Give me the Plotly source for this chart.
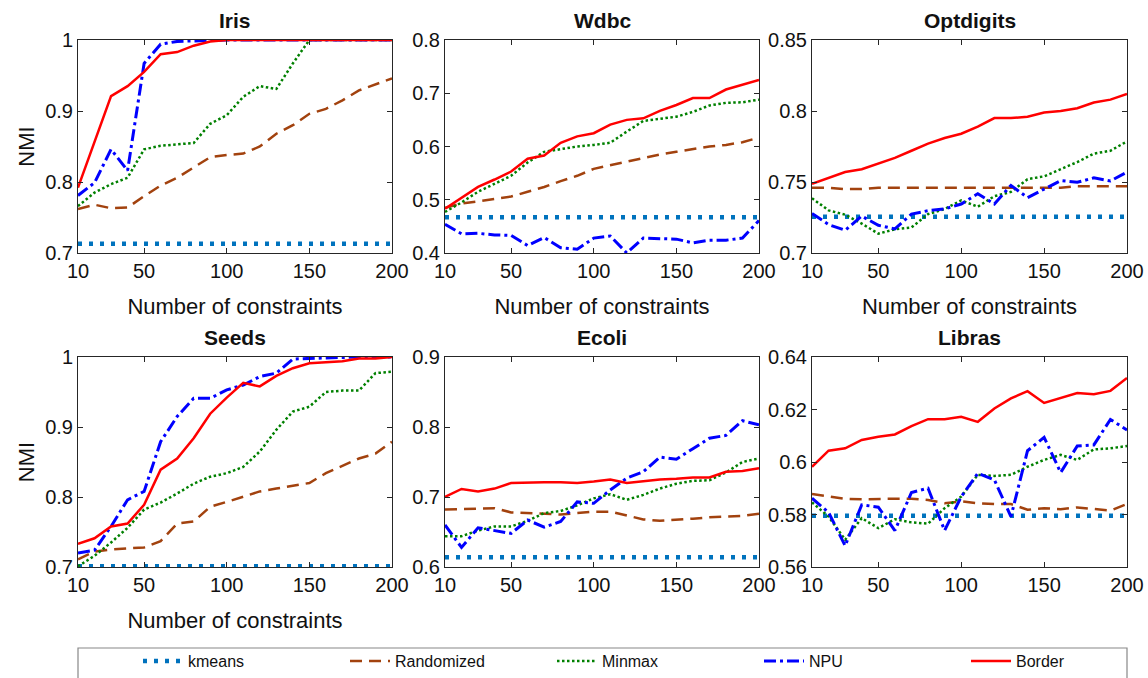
import plotly.graph_objects as go

W, H = 1148, 678

x_vals = [10, 20, 30, 40, 50, 60, 70, 80, 90, 100, 110, 120, 130, 140, 150, 160, 170, 180, 190, 200]
x_ticks = [10, 50, 100, 150, 200]
x_ticktext = ["10", "50", "100", "150", "200"]

methods = ["kmeans", "Randomized", "Minmax", "NPU", "Border"]
datasets = ["Iris", "Wdbc", "Optdigits", "Seeds", "Ecoli", "Libras"]

# ---- Iris ----
iris_kmeans = [0.713] * 20
iris_randomized = [0.762, 0.768, 0.763, 0.764, 0.780, 0.795, 0.806, 0.820, 0.835, 0.838, 0.840, 0.850, 0.868, 0.880, 0.896, 0.903, 0.915, 0.929, 0.937, 0.946]
iris_minmax = [0.766, 0.785, 0.797, 0.806, 0.846, 0.851, 0.853, 0.855, 0.882, 0.894, 0.920, 0.935, 0.931, 0.967, 1.0, 1.0, 1.0, 1.0, 1.0, 1.0]
iris_npu = [0.781, 0.799, 0.846, 0.816, 0.967, 0.994, 0.998, 0.999, 1.0, 1.0, 1.0, 1.0, 1.0, 1.0, 1.0, 1.0, 1.0, 1.0, 1.0, 1.0]
iris_border = [0.792, 0.858, 0.921, 0.935, 0.955, 0.980, 0.983, 0.992, 0.998, 1.0, 1.0, 1.0, 1.0, 1.0, 1.0, 1.0, 1.0, 1.0, 1.0, 1.0]

# ---- Wdbc ----
wdbc_kmeans = [0.467] * 20
wdbc_randomized = [0.485, 0.493, 0.497, 0.501, 0.506, 0.515, 0.524, 0.535, 0.545, 0.558, 0.565, 0.572, 0.578, 0.585, 0.590, 0.595, 0.600, 0.603, 0.608, 0.617]
wdbc_minmax = [0.477, 0.495, 0.515, 0.530, 0.545, 0.570, 0.590, 0.595, 0.600, 0.603, 0.607, 0.628, 0.648, 0.652, 0.656, 0.665, 0.677, 0.682, 0.683, 0.688]
wdbc_npu = [0.454, 0.436, 0.437, 0.434, 0.433, 0.414, 0.429, 0.410, 0.407, 0.428, 0.432, 0.400, 0.428, 0.427, 0.426, 0.419, 0.424, 0.424, 0.428, 0.461]
wdbc_border = [0.483, 0.503, 0.524, 0.538, 0.553, 0.577, 0.583, 0.607, 0.619, 0.625, 0.641, 0.650, 0.653, 0.667, 0.678, 0.691, 0.691, 0.707, 0.716, 0.725]

# ---- Optdigits ----
opt_kmeans = [0.7255] * 20
opt_randomized = [0.746, 0.746, 0.745, 0.745, 0.746, 0.746, 0.746, 0.746, 0.746, 0.746, 0.746, 0.746, 0.746, 0.746, 0.746, 0.746, 0.747, 0.747, 0.747, 0.747]
opt_minmax = [0.7386, 0.730, 0.727, 0.7207, 0.7136, 0.7167, 0.718, 0.7274, 0.731, 0.737, 0.7326, 0.740, 0.743, 0.752, 0.754, 0.759, 0.764, 0.770, 0.772, 0.7786]
opt_npu = [0.7279, 0.720, 0.716, 0.726, 0.7195, 0.717, 0.7274, 0.7298, 0.731, 0.7345, 0.7417, 0.7345, 0.7476, 0.739, 0.745, 0.751, 0.7498, 0.7529, 0.7507, 0.757]
opt_border = [0.7488, 0.753, 0.757, 0.759, 0.763, 0.767, 0.772, 0.777, 0.781, 0.784, 0.789, 0.795, 0.795, 0.796, 0.799, 0.800, 0.802, 0.806, 0.808, 0.812]

# ---- Seeds ----
seeds_kmeans = [0.701] * 20
seeds_randomized = [0.711, 0.722, 0.725, 0.727, 0.728, 0.737, 0.762, 0.765, 0.786, 0.793, 0.800, 0.808, 0.812, 0.816, 0.820, 0.834, 0.845, 0.855, 0.862, 0.879]
seeds_minmax = [0.701, 0.716, 0.735, 0.756, 0.782, 0.792, 0.805, 0.819, 0.829, 0.834, 0.843, 0.865, 0.896, 0.922, 0.929, 0.950, 0.952, 0.952, 0.977, 0.979]
seeds_npu = [0.720, 0.724, 0.758, 0.796, 0.808, 0.879, 0.915, 0.941, 0.941, 0.953, 0.960, 0.972, 0.977, 0.997, 0.998, 0.999, 1.0, 1.0, 1.0, 1.0]
seeds_border = [0.733, 0.741, 0.758, 0.762, 0.789, 0.839, 0.855, 0.884, 0.919, 0.942, 0.963, 0.958, 0.973, 0.984, 0.991, 0.993, 0.994, 0.998, 0.998, 1.0]

# ---- Ecoli ----
ecoli_kmeans = [0.614] * 20
ecoli_randomized = [0.682, 0.683, 0.684, 0.684, 0.678, 0.677, 0.675, 0.675, 0.677, 0.679, 0.679, 0.673, 0.668, 0.666, 0.667, 0.669, 0.671, 0.672, 0.673, 0.676]
ecoli_minmax = [0.644, 0.644, 0.652, 0.658, 0.658, 0.666, 0.677, 0.680, 0.688, 0.698, 0.704, 0.696, 0.703, 0.712, 0.719, 0.723, 0.724, 0.735, 0.750, 0.755]
ecoli_npu = [0.660, 0.628, 0.656, 0.652, 0.648, 0.667, 0.657, 0.665, 0.693, 0.691, 0.710, 0.727, 0.736, 0.757, 0.754, 0.769, 0.784, 0.788, 0.809, 0.803]
ecoli_border = [0.700, 0.7115, 0.708, 0.712, 0.720, 0.721, 0.721, 0.721, 0.720, 0.722, 0.725, 0.720, 0.723, 0.725, 0.726, 0.728, 0.728, 0.736, 0.737, 0.741]

# ---- Libras ----
libras_kmeans = [0.5795] * 20
libras_randomized = [0.5878, 0.587, 0.586, 0.5858, 0.586, 0.586, 0.586, 0.5855, 0.5843, 0.585, 0.5843, 0.584, 0.584, 0.5818, 0.5824, 0.582, 0.5827, 0.582, 0.5815, 0.584]
libras_minmax = [0.5846, 0.5792, 0.5704, 0.5786, 0.5748, 0.5782, 0.577, 0.5765, 0.5824, 0.5868, 0.5951, 0.5947, 0.5951, 0.5982, 0.6008, 0.6027, 0.6008, 0.6048, 0.6052, 0.6061]
libras_npu = [0.5862, 0.5808, 0.5681, 0.5837, 0.5828, 0.5739, 0.5884, 0.590, 0.5739, 0.5868, 0.5957, 0.5932, 0.5792, 0.6043, 0.6094, 0.596, 0.6061, 0.6065, 0.6162, 0.6122]
libras_border = [0.5982, 0.6043, 0.6052, 0.6084, 0.6096, 0.6105, 0.6137, 0.6163, 0.6163, 0.6172, 0.6153, 0.6204, 0.6242, 0.627, 0.6225, 0.6244, 0.6263, 0.6258, 0.6271, 0.632]

series = {
    "Iris": [iris_kmeans, iris_randomized, iris_minmax, iris_npu, iris_border],
    "Wdbc": [wdbc_kmeans, wdbc_randomized, wdbc_minmax, wdbc_npu, wdbc_border],
    "Optdigits": [opt_kmeans, opt_randomized, opt_minmax, opt_npu, opt_border],
    "Seeds": [seeds_kmeans, seeds_randomized, seeds_minmax, seeds_npu, seeds_border],
    "Ecoli": [ecoli_kmeans, ecoli_randomized, ecoli_minmax, ecoli_npu, ecoli_border],
    "Libras": [libras_kmeans, libras_randomized, libras_minmax, libras_npu, libras_border],
}

y_ranges = {
    "Iris": [0.7, 1.0], "Wdbc": [0.4, 0.8], "Optdigits": [0.7, 0.85],
    "Seeds": [0.7, 1.0], "Ecoli": [0.6, 0.9], "Libras": [0.56, 0.64],
}
y_tickvals = {
    "Iris": [0.7, 0.8, 0.9, 1.0], "Wdbc": [0.4, 0.5, 0.6, 0.7, 0.8],
    "Optdigits": [0.7, 0.75, 0.8, 0.85], "Seeds": [0.7, 0.8, 0.9, 1.0],
    "Ecoli": [0.6, 0.7, 0.8, 0.9], "Libras": [0.56, 0.58, 0.6, 0.62, 0.64],
}
y_ticktext = {
    "Iris": ["0.7", "0.8", "0.9", "1"], "Wdbc": ["0.4", "0.5", "0.6", "0.7", "0.8"],
    "Optdigits": ["0.7", "0.75", "0.8", "0.85"], "Seeds": ["0.7", "0.8", "0.9", "1"],
    "Ecoli": ["0.6", "0.7", "0.8", "0.9"], "Libras": ["0.56", "0.58", "0.6", "0.62", "0.64"],
}

styles = [
    dict(color="#0072BD", width=4.5, dash="4px,7px"),
    dict(color="#A2420E", width=2.5, dash="12px,7px"),
    dict(color="#008000", width=2.5, dash="2.5px,2.5px"),
    dict(color="#0000FF", width=3, dash="12px,4px,3px,4px"),
    dict(color="#FF0000", width=2.5, dash="solid"),
]

# pixel layout of each panel: (left, right, top, bottom)
col_px = [(78, 392), (445, 759), (812, 1127)]
row_px = [(40, 253), (357, 567)]

FONT = "Liberation Sans, Arial, Helvetica, sans-serif"
AX = "#262626"

fig = go.Figure()
annotations = []
for i, name in enumerate(datasets):
    r, c = divmod(i, 3)
    l, rr = col_px[c]
    t, b = row_px[r]
    xd = [l / W, rr / W]
    yd = [1 - b / H, 1 - t / H]
    sfx = "" if i == 0 else str(i + 1)
    xa = "x" + sfx
    ya = "y" + sfx
    for k, m in enumerate(methods):
        fig.add_trace(go.Scatter(
            x=x_vals, y=series[name][k], mode="lines", name=m,
            line=styles[k], xaxis=xa, yaxis=ya, showlegend=(i == 0),
            legendgroup=m, hoverinfo="skip",
        ))
    common = dict(showline=True, linecolor=AX, linewidth=1, mirror="ticks",
                  ticks="inside", ticklen=5, tickcolor=AX, showgrid=False,
                  zeroline=False, tickfont=dict(size=20, color="#111", family=FONT))
    xaxis = dict(domain=xd, range=[10, 200], tickvals=x_ticks, ticktext=x_ticktext,
                 anchor=ya, **common)
    if r == 0 or c == 0:
        xaxis["title"] = dict(text="Number of constraints", font=dict(size=22, color="#111", family=FONT), standoff=17)
    yaxis = dict(domain=yd, range=y_ranges[name], tickvals=y_tickvals[name],
                 ticktext=y_ticktext[name], anchor=xa, **common)
    if c == 0:
        yaxis["title"] = dict(text="NMI", font=dict(size=22, color="#111", family=FONT), standoff=4)
    fig.update_layout(**{"xaxis" + sfx: xaxis, "yaxis" + sfx: yaxis})
    annotations.append(dict(
        text="<b>" + name + "</b>", x=(xd[0] + xd[1]) / 2, y=yd[1], xref="paper", yref="paper",
        xanchor="center", yanchor="bottom", yshift=6, showarrow=False,
        font=dict(size=21, color="#111", family=FONT),
    ))

fig.update_layout(
    width=W, height=H, margin=dict(l=0, r=0, t=0, b=0, autoexpand=False),
    paper_bgcolor="white", plot_bgcolor="white",
    annotations=annotations,
    shapes=[dict(type="rect", xref="paper", yref="paper",
                 x0=78 / W, x1=1127 / W, y0=-0.05, y1=1 - 648 / H,
                 line=dict(color="#888888", width=1.2), fillcolor="rgba(0,0,0,0)")],
    legend=dict(orientation="h", x=138 / W, xanchor="left", y=0, yanchor="bottom",
                entrywidth=152, entrywidthmode="pixels", itemwidth=40,
                font=dict(size=16, color="#111", family=FONT),
                bgcolor="rgba(0,0,0,0)", borderwidth=0, tracegroupgap=0),
    showlegend=True,
)

fig.write_html("out.html")
